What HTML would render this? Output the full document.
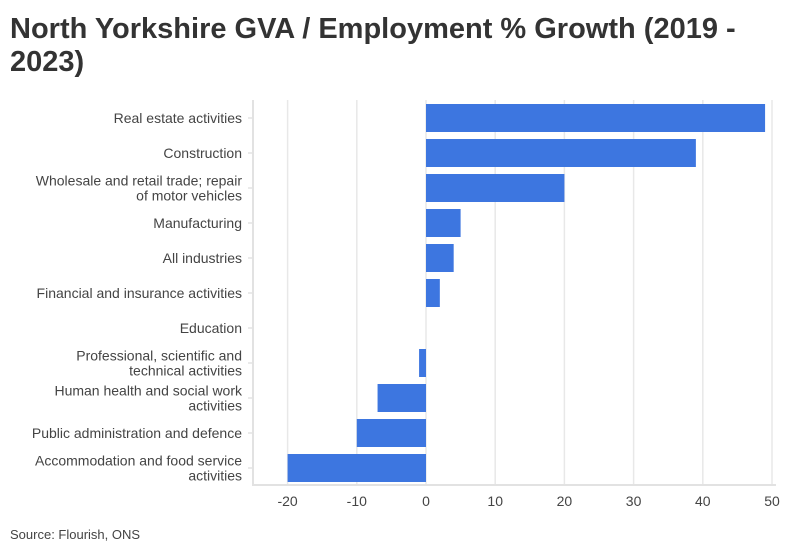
<!DOCTYPE html>
<html><head><meta charset="utf-8"><style>
body{margin:0;background:#fff;width:794px;height:554px;overflow:hidden;font-family:"Liberation Sans",sans-serif}
#title{position:absolute;left:10px;top:13px;width:735px;font-size:29px;font-weight:bold;color:#333;line-height:33px}
#src{position:absolute;left:10px;top:527px;font-size:13px;color:#444}
svg{position:absolute;left:0;top:0}
</style></head><body>
<div id="title">North Yorkshire GVA / Employment % Growth (2019 - 2023)</div>
<svg id="chart" width="794" height="554"></svg>
<div id="src">Source: Flourish, ONS</div>
<script>
const categories=[["Real estate activities"],["Construction"],["Wholesale and retail trade; repair","of motor vehicles"],["Manufacturing"],["All industries"],["Financial and insurance activities"],["Education"],["Professional, scientific and","technical activities"],["Human health and social work","activities"],["Public administration and defence"],["Accommodation and food service","activities"]];
const values=[49,39,20,5,4,2,0,-1,-7,-10,-20];
const ticks=[-20,-10,0,10,20,30,40,50];
const NS="http://www.w3.org/2000/svg";
const svg=document.getElementById('chart');
const x0=253,x1=772,dmin=-25,dmax=50,top0=100,rowH=35,bottom=485;
const xs=v=>x0+(v-dmin)/(dmax-dmin)*(x1-x0);
const yc=i=>top0+rowH/2+i*rowH+0.5;
function mk(t,a){const e=document.createElementNS(NS,t);for(const k in a)e.setAttribute(k,a[k]);svg.appendChild(e);return e;}
ticks.forEach(t=>{
 const g=mk('line',{x1:xs(t),x2:xs(t),y1:top0,y2:bottom,stroke:'#e8e8e8','stroke-width':1.5});
 
 
 const l=mk('text',{x:xs(t),y:506,'text-anchor':'middle','font-size':14,fill:'#444'});
 l.textContent=t;
 
 
});
const ax=mk('path',{d:`M${x0},${top0}V${bottom}H${x1+4}`,fill:'none',stroke:'#e2e2e2','stroke-width':2});


categories.forEach((c,i)=>{
 const y=yc(i);
 mk('line',{x1:x0-5,x2:x0,y1:y,y2:y,stroke:'#e2e2e2','stroke-width':1.5});
 const v=values[i];
 const r=mk('rect',{x:Math.min(xs(0),xs(v)),y:y-14,width:Math.abs(xs(v)-xs(0)),height:28,fill:'#3d76e0'});
 
 
 const t=mk('text',{x:242,'text-anchor':'end','font-size':14,fill:'#444'});
 
 
 c.forEach((line,j)=>{const s=document.createElementNS(NS,'tspan');s.setAttribute('x',242);s.setAttribute('y',y+5+(j-(c.length-1)/2)*15);s.textContent=line;t.appendChild(s);});
});
</script>
</body></html>
